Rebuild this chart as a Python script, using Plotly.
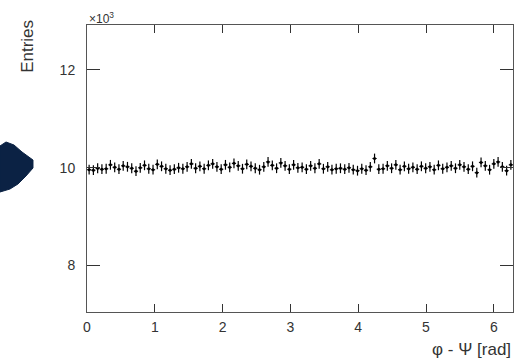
import numpy as np
import plotly.graph_objects as go

# ---- data (entries in units of 10^3) ----
n_bins = 100
x_min, x_max = 0.0, 2 * np.pi
entries_k = [
    9.96, 9.95, 9.99, 9.97, 9.98, 10.06, 10.01, 9.97, 10.04, 10.02,
    9.99, 9.93, 10.00, 10.05, 9.98, 9.96, 10.07, 10.03, 9.98, 9.95,
    9.97, 10.00, 9.98, 10.02, 10.08,
    9.99, 10.03, 9.98, 10.05, 10.08, 10.02, 9.97, 10.06, 10.01, 10.09,
    10.04, 9.98, 10.07, 10.03, 9.99, 9.96, 10.02, 10.12, 10.05, 9.99,
    10.10, 10.04, 9.97, 10.06, 10.00,
    10.01, 9.97, 10.04, 9.99, 10.08, 9.98, 10.02, 9.96, 9.98, 9.99,
    9.97, 10.00, 9.96, 9.94, 9.98, 9.95, 10.02, 10.19, 9.97, 9.98,
    10.04, 9.99, 10.06, 9.96, 10.03,
    9.98, 10.01, 9.97, 10.03, 9.99, 10.02, 9.96, 10.05, 9.98, 10.01,
    10.04, 9.99, 10.06, 10.02, 9.97, 10.03, 9.90, 10.11, 10.04, 9.96,
    10.08, 10.12, 10.02, 9.94, 10.06,
]
bin_error_k = 0.10
x_ticks = [0, 1, 2, 3, 4, 5, 6]
y_ticks = [8, 10, 12]
y_range = [7.05, 12.92]

bin_w = (x_max - x_min) / n_bins
centers = x_min + bin_w * (np.arange(n_bins) + 0.5)

fig = go.Figure()
fig.add_trace(go.Scatter(
    x=centers, y=entries_k, mode="markers",
    marker=dict(color="black", size=3),
    error_y=dict(type="constant", value=bin_error_k, color="black", thickness=1.2, width=0),
    error_x=dict(type="constant", value=bin_w / 2, color="black", thickness=1, width=0),
    showlegend=False,
))

font = "Liberation Sans, Arial, sans-serif"
fig.update_layout(
    width=516, height=362,
    margin=dict(l=87, r=3, t=25, b=50),
    paper_bgcolor="white", plot_bgcolor="white",
    font=dict(family=font, size=14, color="#333"),
    xaxis=dict(
        range=[x_min, x_max], tickvals=x_ticks, ticks="inside", ticklen=8,
        tickcolor="#333", showline=True, linecolor="#555", linewidth=1,
        mirror="ticks", showgrid=False, zeroline=False, ticklabelstandoff=2,
    ),
    yaxis=dict(
        range=y_range, tickvals=y_ticks, ticks="inside", ticklen=13,
        tickcolor="#333", showline=True, linecolor="#555", linewidth=1,
        mirror="ticks", showgrid=False, zeroline=False, ticklabelstandoff=8,
    ),
    annotations=[
        dict(text="×10<sup>3</sup>", xref="paper", yref="paper", x=0, y=1,
             xanchor="left", yanchor="bottom", showarrow=False,
             font=dict(size=12), yshift=-3),
        dict(text="Entries", xref="paper", yref="paper", x=-0.14, y=1,
             xanchor="center", yanchor="top", textangle=-90, showarrow=False,
             font=dict(size=17), yshift=7),
        dict(text="φ - Ψ [rad]", xref="paper", yref="paper", x=1, y=0,
             xanchor="right", yanchor="top", showarrow=False,
             font=dict(size=17), yshift=-26),
    ],
)

# dark blob at left edge of the picture (pixel coords converted to paper)
def px(xp):
    return (xp - 87) / 426
def py(yp):
    return (312 - yp) / 287
pts = [(0, 146), (6, 142), (14, 145), (22, 152), (33, 160), (33, 168),
       (26, 176), (18, 184), (10, 189), (0, 192)]
path = "M " + " L ".join(f"{px(a):.4f},{py(b):.4f}" for a, b in pts) + " Z"
fig.add_shape(type="path", path=path, xref="paper", yref="paper",
              fillcolor="#0b2244", line=dict(color="#0b2244", width=1), layer="above")

fig.write_html("out.html", config={"displayModeBar": False},
               post_script="document.body.style.margin='0';document.body.style.overflow='hidden';")
